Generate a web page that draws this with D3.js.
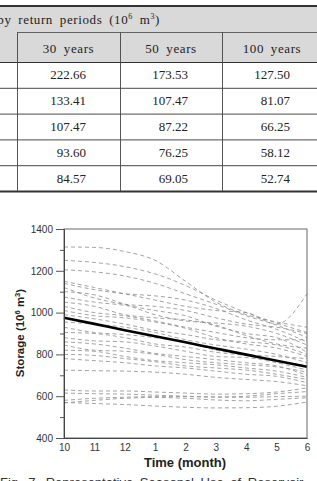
<!DOCTYPE html>
<html>
<head>
<meta charset="utf-8">
<script src="https://cdn.jsdelivr.net/npm/d3@7"></script>
<style>
  body { margin: 0; background: #fff; }
  svg { display: block; }
</style>
</head>
<body>
<div id="chart"></div>
<script>
// table values
var colHeaders = ["30 years", "50 years", "100 years"];
var years30 = [222.66, 133.41, 107.47, 93.60, 84.57];
var years50 = [173.53, 107.47, 87.22, 76.25, 69.05];
var years100 = [127.50, 81.07, 66.25, 58.12, 52.74];

// chart values
var months = ["10", "11", "12", "1", "2", "3", "4", "5", "6"];
var yTicks = [400, 600, 800, 1000, 1200, 1400];
var meanStorage = [975, 946, 916, 887, 858, 828, 799, 770, 741];

// each yearly storage curve (dashed)
var yearly = [
  [1314, 1312, 1292, 1250, 1150, 1050, 990, 955, 930],
  [1150, 1120, 1090, 1060, 1030, 1010, 1000, 945, 1090],
  [1250, 1240, 1220, 1185, 1130, 1060, 1000, 950, 905],
  [1205, 1195, 1175, 1140, 1090, 1040, 985, 940, 880],
  [1140, 1110, 1090, 1080, 1060, 1020, 965, 920, 860],
  [1120, 1070, 1040, 1030, 1010, 975, 945, 930, 900],
  [1100, 1085, 1040, 990, 960, 950, 935, 900, 845],
  [1075, 1050, 1035, 1010, 985, 935, 900, 880, 810],
  [1050, 1030, 990, 975, 965, 940, 890, 850, 830],
  [1030, 1000, 985, 960, 930, 905, 880, 870, 870],
  [1010, 985, 975, 955, 925, 880, 850, 830, 790],
  [990, 970, 945, 915, 895, 870, 860, 845, 800],
  [955, 945, 930, 905, 870, 845, 825, 800, 760],
  [930, 905, 895, 880, 860, 820, 800, 790, 780],
  [905, 900, 880, 850, 835, 810, 795, 770, 745],
  [880, 865, 860, 840, 815, 790, 785, 760, 725],
  [860, 850, 830, 805, 790, 775, 760, 745, 700],
  [845, 820, 815, 800, 775, 760, 750, 740, 715],
  [820, 815, 790, 770, 760, 750, 735, 720, 690],
  [800, 795, 780, 765, 745, 735, 725, 705, 680],
  [780, 770, 760, 745, 735, 720, 705, 695, 665],
  [725, 722, 720, 715, 705, 690, 680, 670, 650],
  [630, 625, 625, 620, 615, 610, 612, 620, 640],
  [615, 612, 610, 605, 600, 596, 600, 612, 622],
  [580, 590, 595, 598, 598, 596, 595, 598, 600],
  [568, 580, 590, 594, 590, 582, 578, 585, 592],
  [570, 565, 560, 553, 547, 544, 545, 552, 572]
];

var svgWidth = 317;
var svgHeight = 481;

var svg = d3.select("#chart")
    .append("svg")
    .attr("width", svgWidth)
    .attr("height", svgHeight);

// ---------- table ----------
var serif = "'Liberation Serif', 'DejaVu Serif', serif";
var colEdges = [17, 120, 222, 330];
var rowScale = d3.scaleBand()
    .domain(d3.range(years30.length))
    .range([62, 191]);

var table = svg.append("g");

table.append("rect")
    .attr("x", 0).attr("y", 6)
    .attr("width", svgWidth).attr("height", 56)
    .attr("fill", "#d9d9d9");

// header row 1 (its left part runs off the page)
var h1 = table.append("text")
    .attr("x", 160).attr("y", 24)
    .attr("text-anchor", "end")
    .attr("font-family", serif)
    .attr("font-size", 13)
    .attr("letter-spacing", 0.6)
    .attr("word-spacing", 3)
    .attr("fill", "#222");
h1.append("tspan").text("by return periods (10");
h1.append("tspan").attr("font-size", 8).attr("dy", -5).text("6");
h1.append("tspan").attr("dy", 5).text(" m");
h1.append("tspan").attr("font-size", 8).attr("dy", -5).text("3");
h1.append("tspan").attr("dy", 5).text(")");

// header row 2
table.selectAll(".colHead")
    .data(colHeaders)
    .enter()
    .append("text")
    .attr("x", (d, i) => i === 2 ? 272 : (colEdges[i] + colEdges[i + 1]) / 2)
    .attr("y", 53)
    .attr("text-anchor", "middle")
    .attr("font-family", serif)
    .attr("font-size", 13)
    .attr("letter-spacing", 0.6)
    .attr("word-spacing", 3)
    .attr("fill", "#222")
    .text(d => d);

// body values, right aligned
var cols = [years30, years50, years100];
var rightEdges = [86, 188, 290];
cols.forEach(function (col, ci) {
    table.selectAll(".c" + ci)
        .data(col)
        .enter()
        .append("text")
        .attr("x", rightEdges[ci])
        .attr("y", (d, i) => rowScale(i) + rowScale.bandwidth() / 2 + 4.5)
        .attr("text-anchor", "end")
        .attr("font-family", serif)
        .attr("font-size", 13)
        .attr("fill", "#222")
        .text(d => d.toFixed(2));
});

// grid lines
table.append("line").attr("x1", 0).attr("x2", svgWidth).attr("y1", 6).attr("y2", 6)
    .attr("stroke", "#333").attr("stroke-width", 2);
table.append("line").attr("x1", 17).attr("x2", svgWidth).attr("y1", 32.5).attr("y2", 32.5)
    .attr("stroke", "#444").attr("stroke-width", 0.8);
table.selectAll(".hline")
    .data(d3.range(years30.length))
    .enter()
    .append("line")
    .attr("x1", 0).attr("x2", svgWidth)
    .attr("y1", d => rowScale(d) + 0.5)
    .attr("y2", d => rowScale(d) + 0.5)
    .attr("stroke", "#333")
    .attr("stroke-width", d => d === 0 ? 1.2 : 0.9);
table.append("line").attr("x1", 0).attr("x2", svgWidth).attr("y1", 191.5).attr("y2", 191.5)
    .attr("stroke", "#333").attr("stroke-width", 2);
table.selectAll(".vline")
    .data(colEdges.slice(0, 3))
    .enter()
    .append("line")
    .attr("x1", d => d + 0.5).attr("x2", d => d + 0.5)
    .attr("y1", 32.5).attr("y2", 191)
    .attr("stroke", "#444")
    .attr("stroke-width", 0.9);

// ---------- chart ----------
var sans = "'Liberation Sans', Arial, sans-serif";
var plot = { left: 64, right: 307, top: 229, bottom: 438 };

var xScale = d3.scalePoint()
    .domain(months)
    .range([plot.left, plot.right]);

var yScale = d3.scaleLinear()
    .domain([400, 1400])
    .range([plot.bottom, plot.top]);

var lineGen = d3.line()
    .curve(d3.curveMonotoneX)
    .x((d, i) => xScale(months[i]))
    .y(d => yScale(d));

var chartGroup = svg.append("g");

chartGroup.selectAll(".yearLine")
    .data(yearly)
    .enter()
    .append("path")
    .attr("d", lineGen)
    .attr("fill", "none")
    .attr("stroke", "#8c8c8c")
    .attr("stroke-width", 0.8)
    .attr("stroke-dasharray", "4,3");

chartGroup.append("path")
    .datum(meanStorage)
    .attr("d", lineGen)
    .attr("fill", "none")
    .attr("stroke", "#000")
    .attr("stroke-width", 2.6);

// frame
chartGroup.append("rect")
    .attr("x", plot.left).attr("y", plot.top)
    .attr("width", plot.right - plot.left)
    .attr("height", plot.bottom - plot.top)
    .attr("fill", "none")
    .attr("stroke", "#666")
    .attr("stroke-width", 1);

// y axis with minor ticks
var minorAxis = d3.axisLeft(yScale)
    .tickValues(d3.range(500, 1400, 200))
    .tickSize(4)
    .tickFormat("");
chartGroup.append("g")
    .attr("transform", `translate(${plot.left}, 0)`)
    .call(minorAxis)
    .call(g => g.select(".domain").remove())
    .selectAll("line").attr("stroke", "#555");

var leftAxis = d3.axisLeft(yScale)
    .tickValues(yTicks)
    .tickSize(8)
    .tickPadding(3)
    .tickFormat(d3.format("d"));
var yAxisG = chartGroup.append("g")
    .attr("transform", `translate(${plot.left}, 0)`)
    .call(leftAxis);
yAxisG.select(".domain").attr("stroke", "#444");
yAxisG.selectAll("line").attr("stroke", "#555");
yAxisG.selectAll("text")
    .attr("font-family", sans)
    .attr("font-size", 10)
    .attr("fill", "#333");

var bottomAxis = d3.axisBottom(xScale)
    .tickSize(0)
    .tickPadding(6);
var xAxisG = chartGroup.append("g")
    .attr("transform", `translate(0, ${plot.bottom})`)
    .call(bottomAxis);
xAxisG.select(".domain").attr("stroke", "#444");
xAxisG.selectAll("text")
    .attr("font-family", sans)
    .attr("font-size", 10)
    .attr("fill", "#333");

// axis titles
chartGroup.append("text")
    .attr("x", 185).attr("y", 467)
    .attr("text-anchor", "middle")
    .attr("font-family", sans)
    .attr("font-size", 13)
    .attr("font-weight", "bold")
    .attr("fill", "#222")
    .text("Time (month)");

var yTitle = chartGroup.append("text")
    .attr("transform", "translate(24, 333) rotate(-90)")
    .attr("text-anchor", "middle")
    .attr("font-family", sans)
    .attr("font-size", 11.5)
    .attr("font-weight", "bold")
    .attr("fill", "#222");
yTitle.append("tspan").text("Storage (10");
yTitle.append("tspan").attr("font-size", 7.5).attr("dy", -4).text("6");
yTitle.append("tspan").attr("dy", 4).text(" m");
yTitle.append("tspan").attr("font-size", 7.5).attr("dy", -4).text("3");
yTitle.append("tspan").attr("dy", 4).text(")");

// caption, cut off by the page edge as in the source
svg.append("text")
    .attr("x", 0).attr("y", 487)
    .attr("font-family", sans)
    .attr("font-size", 13)
    .attr("fill", "#333")
    .attr("word-spacing", 3)
    .text("Fig. 7. Representative Seasonal Use of Reservoir");
</script>
</body>
</html>
